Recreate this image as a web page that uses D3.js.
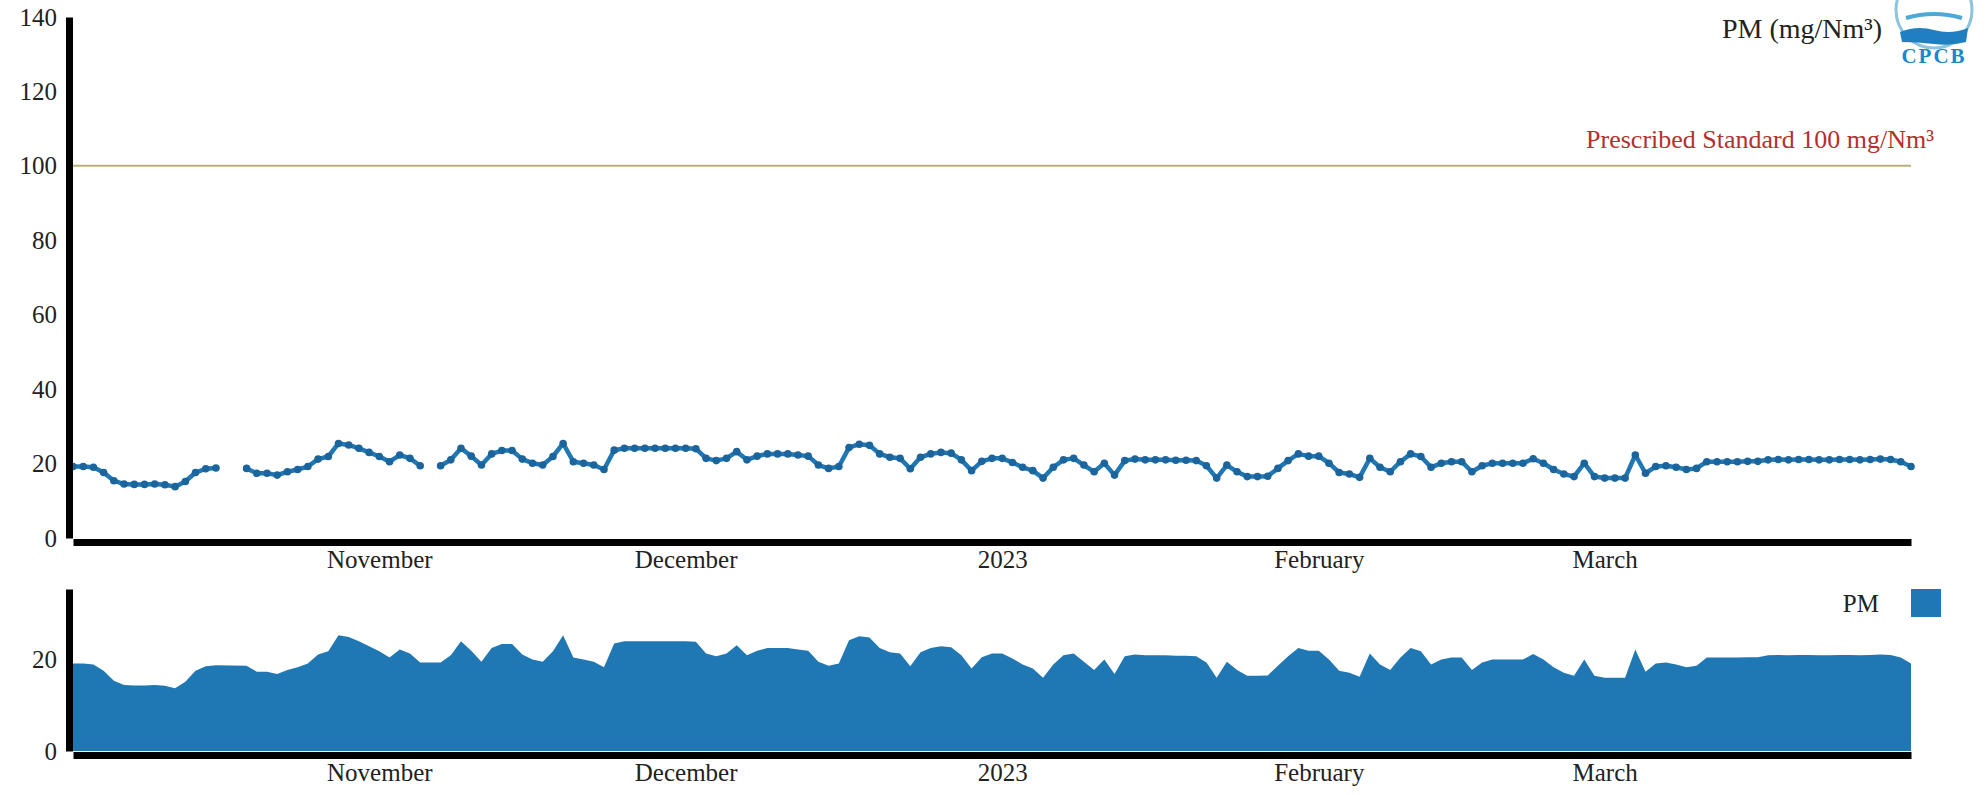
<!DOCTYPE html>
<html>
<head>
<meta charset="utf-8">
<script src="https://cdn.jsdelivr.net/npm/d3@7"></script>
<style>
  html, body { margin: 0; padding: 0; background: #fff; }
  svg { display: block; }
  text { font-family: "Liberation Serif", "Times New Roman", serif; }
</style>
</head>
<body>
<svg id="chart" width="1986" height="795"></svg>
<script>
// Daily PM readings, one per day starting 2 Oct 2022 (null = no reading)
const startDate = "2022-10-02";
const pmValues = [
  19.2, 19.2, 19.0, 17.6, 15.4, 14.5, 14.4, 14.4, 14.5, 14.3,
  13.8, 15.2, 17.6, 18.6, 18.8, null, null, 18.7, 17.4, 17.4,
  16.9, 17.8, 18.4, 19.2, 21.2, 21.9, 25.4, 25.0, 24.1, 23.0,
  21.9, 20.5, 22.3, 21.4, 19.4, null, 19.4, 21.0, 24.1, 22.0,
  19.6, 22.6, 23.5, 23.5, 21.2, 20.1, 19.6, 21.9, 25.4, 20.5,
  20.1, 19.6, 18.4, 23.6, 24.1, 24.1, 24.1, 24.1, 24.1, 24.1,
  24.1, 24.0, 21.4, 20.8, 21.4, 23.2, 21.0, 22.0, 22.6, 22.6,
  22.6, 22.3, 22.0, 19.6, 18.7, 19.2, 24.3, 25.2, 24.9, 22.6,
  21.7, 21.4, 18.6, 21.7, 22.6, 23.0, 22.8, 21.0, 18.1, 20.6,
  21.4, 21.4, 20.3, 19.0, 18.1, 16.1, 19.0, 21.0, 21.4, 19.6,
  17.8, 20.1, 16.9, 20.8, 21.2, 21.0, 21.0, 21.0, 20.9, 20.9,
  20.8, 19.4, 16.1, 19.6, 17.8, 16.5, 16.5, 16.6, 18.7, 20.8,
  22.6, 22.0, 22.0, 20.1, 17.6, 17.2, 16.3, 21.4, 19.0, 17.8,
  20.5, 22.6, 21.9, 19.0, 20.1, 20.5, 20.5, 17.8, 19.4, 20.1,
  20.1, 20.1, 20.1, 21.3, 20.1, 18.4, 17.2, 16.5, 20.1, 16.5,
  16.1, 16.1, 16.1, 22.3, 17.4, 19.2, 19.4, 19.0, 18.4, 18.7,
  20.5, 20.5, 20.5, 20.5, 20.6, 20.6, 21.0, 21.1, 21.0, 21.1,
  21.1, 21.0, 21.0, 21.1, 21.1, 21.0, 21.1, 21.2, 21.1, 20.5,
  19.2
];
const focusYTicks = [0, 20, 40, 60, 80, 100, 120, 140];
const contextYTicks = [0, 20];
const standardLimit = 100;
const seriesName = "PM";
const unitLabel = "PM (mg/Nm³)";
const standardLabel = "Prescribed Standard 100 mg/Nm³";

const parse = d3.timeParse("%Y-%m-%d");
const t0 = parse(startDate);
const data = pmValues.map((v, i) => ({ date: d3.timeDay.offset(t0, i), value: v }));
const present = data.filter(d => d.value != null);

const svg = d3.select("#chart");

// panel geometry
const left = 73, right = 1911;
const focusTop = 17, focusBottom = 538;
const contextTop = 589, contextBottom = 751;

const x = d3.scaleTime()
  .domain(d3.extent(data, d => d.date))
  .range([left, right]);
const yFocus = d3.scaleLinear().domain([0, 140]).range([focusBottom, focusTop]);
const yContext = d3.scaleLinear()
  .domain([0, d3.max(present, d => d.value) * 1.4])
  .range([contextBottom, contextTop]);

const blue = "#1f77b4";
const axisFont = 25;

// ---------- focus panel ----------
const focus = svg.append("g");

// prescribed standard line
focus.append("line")
  .attr("x1", left).attr("x2", right)
  .attr("y1", yFocus(standardLimit)).attr("y2", yFocus(standardLimit))
  .attr("stroke", "#b9b27a").attr("stroke-width", 2);

focus.append("text")
  .attr("x", 1934).attr("y", yFocus(standardLimit) - 18)
  .attr("text-anchor", "end")
  .attr("font-size", 26)
  .attr("fill", "#b3302e")
  .text(standardLabel);

const line = d3.line()
  .defined(d => d.value != null)
  .x(d => x(d.date))
  .y(d => yFocus(d.value));

focus.append("path")
  .datum(data)
  .attr("fill", "none")
  .attr("stroke", blue)
  .attr("stroke-width", 4.5)
  .attr("stroke-linejoin", "round")
  .attr("d", line);

focus.selectAll("circle.dot")
  .data(present)
  .join("circle")
  .attr("class", "dot")
  .attr("cx", d => x(d.date))
  .attr("cy", d => yFocus(d.value))
  .attr("r", 3.8)
  .attr("fill", "#1b649c");

// axes
const fAxisY = focus.append("g")
  .attr("transform", "translate(69,0)")
  .call(d3.axisLeft(yFocus).tickValues(focusYTicks).tickSize(0).tickSizeOuter(0).tickPadding(12));
const fAxisX = focus.append("g")
  .attr("transform", `translate(0,${focusBottom + 4})`)
  .call(d3.axisBottom(x).ticks(d3.timeMonth.every(1)).tickSize(0).tickSizeOuter(0).tickPadding(8));

// ---------- context panel ----------
const context = svg.append("g");
const area = d3.area()
  .x(d => x(d.date))
  .y0(yContext(0))
  .y1(d => yContext(d.value));

context.append("path")
  .datum(present)
  .attr("fill", blue)
  .attr("d", area);

const cAxisY = context.append("g")
  .attr("transform", "translate(69,0)")
  .call(d3.axisLeft(yContext).tickValues(contextYTicks).tickSize(0).tickSizeOuter(0).tickPadding(12));
const cAxisX = context.append("g")
  .attr("transform", `translate(0,${contextBottom + 4})`)
  .call(d3.axisBottom(x).ticks(d3.timeMonth.every(1)).tickSize(0).tickSizeOuter(0).tickPadding(8));

[fAxisY, fAxisX, cAxisY, cAxisX].forEach(g => {
  g.select(".domain").attr("stroke", "#000").attr("stroke-width", 7);
  g.selectAll("text")
    .attr("font-family", "Liberation Serif, serif")
    .attr("font-size", axisFont)
    .attr("fill", "#222");
});

// ---------- legends ----------
svg.append("text")
  .attr("x", 1882).attr("y", 38)
  .attr("text-anchor", "end")
  .attr("font-size", 28)
  .attr("fill", "#222")
  .text(unitLabel);

svg.append("text")
  .attr("x", 1879).attr("y", 612)
  .attr("text-anchor", "end")
  .attr("font-size", 25)
  .attr("fill", "#222")
  .text(seriesName);
svg.append("rect")
  .attr("x", 1911).attr("y", 589)
  .attr("width", 30).attr("height", 28)
  .attr("fill", blue);

// ---------- board emblem ----------
const logo = svg.append("g").attr("transform", "translate(1934,10)");
logo.append("circle").attr("r", 38).attr("fill", "#fff")
  .attr("stroke", "#8cc4de").attr("stroke-width", 3);
logo.append("path")
  .attr("d", "M-34,22 Q-17,15 0,20 T34,18 L32,32 Q17,36 0,34 T-32,32 Z")
  .attr("fill", "#1f7fc0");
logo.append("path")
  .attr("d", "M-28,8 Q0,0 28,8")
  .attr("fill", "none").attr("stroke", "#4fa8d6").attr("stroke-width", 4);
logo.append("text")
  .attr("x", 0).attr("y", 53)
  .attr("text-anchor", "middle")
  .attr("font-family", "DejaVu Sans, sans-serif")
  .attr("font-weight", "bold")
  .attr("font-size", 21)
  .attr("letter-spacing", 2)
  .attr("fill", "#1b86c9")
  .text("CPCB");
</script>
</body>
</html>
